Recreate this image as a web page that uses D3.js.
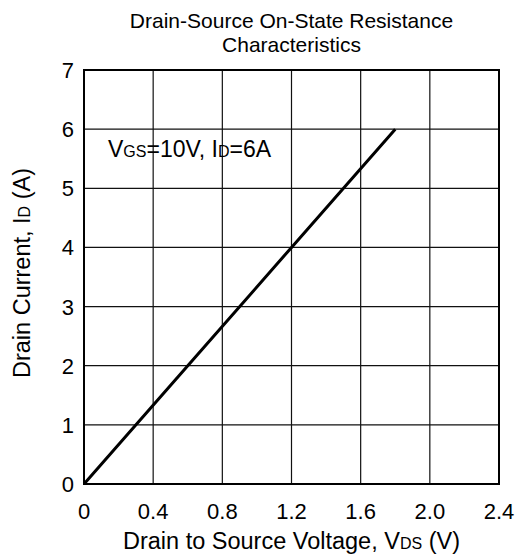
<!DOCTYPE html>
<html>
<head>
<meta charset="utf-8">
<script src="https://cdn.jsdelivr.net/npm/d3@7"></script>
<style>
  body { margin: 0; background: #fff; }
  text { font-family: "Liberation Sans", Arial, sans-serif; fill: #000; }
</style>
</head>
<body>
<div id="chart"></div>
<script>
// data
const vds = [0, 0.6, 1.2, 1.8];
const id = [0, 2, 4, 6];
const xTicks = [0, 0.4, 0.8, 1.2, 1.6, 2.0, 2.4];
const xTickLabels = ["0", "0.4", "0.8", "1.2", "1.6", "2.0", "2.4"];
const yTicks = [0, 1, 2, 3, 4, 5, 6, 7];

const width = 525, height = 556;
const margin = {top: 70, left: 84, right: 26, bottom: 72};

const svg = d3.select("#chart")
    .append("svg")
    .attr("width", width)
    .attr("height", height);

const xScale = d3.scaleLinear()
    .domain([0, 2.4])
    .range([margin.left, width - margin.right]);

const yScale = d3.scaleLinear()
    .domain([0, 7])
    .range([height - margin.bottom, margin.top]);

/*
GRID
*/
svg.append("g")
    .selectAll("line")
    .data(xTicks.slice(1, -1))
    .enter()
    .append("line")
        .attr("x1", d => xScale(d))
        .attr("x2", d => xScale(d))
        .attr("y1", yScale(0))
        .attr("y2", yScale(7))
        .attr("stroke", "#111")
        .attr("stroke-width", 1.2);

svg.append("g")
    .selectAll("line")
    .data(yTicks.slice(1, -1))
    .enter()
    .append("line")
        .attr("x1", xScale(0))
        .attr("x2", xScale(2.4))
        .attr("y1", d => yScale(d))
        .attr("y2", d => yScale(d))
        .attr("stroke", "#111")
        .attr("stroke-width", 1.2);

// frame
svg.append("rect")
    .attr("x", xScale(0))
    .attr("y", yScale(7))
    .attr("width", xScale(2.4) - xScale(0))
    .attr("height", yScale(0) - yScale(7))
    .attr("fill", "none")
    .attr("stroke", "#000")
    .attr("stroke-width", 2);

/*
TICK LABELS
*/
svg.append("g")
    .selectAll("text")
    .data(xTicks)
    .enter()
    .append("text")
        .attr("x", d => xScale(d))
        .attr("y", yScale(0) + 35)
        .attr("text-anchor", "middle")
        .attr("font-size", 22)
        .text((d, i) => xTickLabels[i]);

svg.append("g")
    .selectAll("text")
    .data(yTicks)
    .enter()
    .append("text")
        .attr("x", xScale(0) - 10)
        .attr("y", d => yScale(d) + 8)
        .attr("text-anchor", "end")
        .attr("font-size", 22)
        .text(d => d);

/*
LINE
*/
const line = d3.line()
    .x((d, i) => xScale(vds[i]))
    .y((d, i) => yScale(id[i]));

svg.append("path")
    .datum(vds)
    .attr("d", line)
    .attr("fill", "none")
    .attr("stroke", "#000")
    .attr("stroke-width", 3);

/*
TITLE + LABELS
*/
const cx = (xScale(0) + xScale(2.4)) / 2;

svg.append("text")
    .attr("x", cx)
    .attr("y", 28)
    .attr("text-anchor", "middle")
    .attr("font-size", 21)
    .text("Drain-Source On-State Resistance");

svg.append("text")
    .attr("x", cx)
    .attr("y", 52)
    .attr("text-anchor", "middle")
    .attr("font-size", 21)
    .text("Characteristics");

const xLabel = svg.append("text")
    .attr("x", cx)
    .attr("y", 549)
    .attr("text-anchor", "middle")
    .attr("font-size", 23.5);
xLabel.append("tspan").text("Drain to Source Voltage, V");
xLabel.append("tspan").attr("font-size", 16).text("DS");
xLabel.append("tspan").text(" (V)");

const yLabel = svg.append("text")
    .attr("transform", `translate(30,${(yScale(0) + yScale(7)) / 2 - 4}) rotate(-90)`)
    .attr("text-anchor", "middle")
    .attr("font-size", 23.5);
yLabel.append("tspan").text("Drain Current, I");
yLabel.append("tspan").attr("font-size", 16).text("D");
yLabel.append("tspan").text(" (A)");

// annotation
const note = svg.append("text")
    .attr("x", 108)
    .attr("y", 157)
    .attr("font-size", 23);
note.append("tspan").text("V");
note.append("tspan").attr("font-size", 16).text("GS");
note.append("tspan").text("=10V, I");
note.append("tspan").attr("font-size", 16).text("D");
note.append("tspan").text("=6A");
</script>
</body>
</html>
